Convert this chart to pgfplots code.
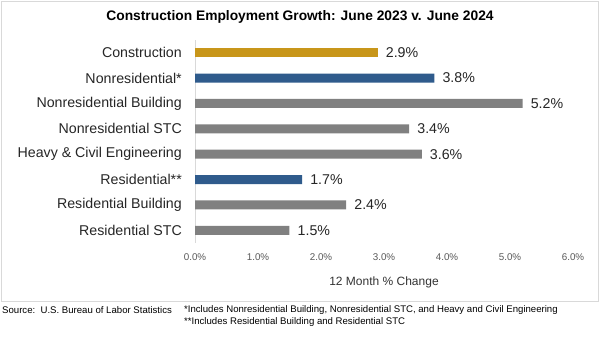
\documentclass[border=0pt]{standalone}
\usepackage{pgfplots}
\pgfplotsset{compat=1.18}
\usepackage{fontspec}
\setmainfont{Liberation Sans}
\definecolor{gold}{HTML}{C8961A}
\definecolor{navy}{HTML}{2F5B8C}
\definecolor{bargray}{HTML}{808080}
\definecolor{frame}{HTML}{D9D9D9}
\definecolor{ticktxt}{HTML}{595959}
\begin{document}
\begin{tikzpicture}[x=1pt,y=1pt]
\fill[white] (0,0) rectangle (600,-338);
\draw[frame, line width=0.8pt] (1,-1) rectangle (598.5,-301);
\node[font=\fontsize{13.8}{15}\selectfont\bfseries] at (300,-17) {Construction Employment Growth: June 2023 v. June 2024};
\begin{axis}[
  at={(195pt,-243pt)}, anchor=south west,
  scale only axis, width=378pt, height=203pt,
  xmin=0, xmax=6, ymin=-0.5, ymax=7.5, y dir=reverse,
  axis x line=none,
  axis y line*=left,
  y axis line style={frame, line width=0.8pt, -},
  xtick=\empty,
  ytick={0,...,7},
  yticklabels={Construction, Nonresidential*, Nonresidential Building, Nonresidential STC, Heavy \& Civil Engineering, Residential**, Residential Building, Residential STC},
  major tick length=0pt,
  yticklabel style={font=\fontsize{14.2}{16}\selectfont, text=black!85, inner sep=0pt, xshift=-13pt},
  xbar, bar width=9pt, bar shift=0pt,
  nodes near coords={\pgfmathprintnumber[fixed,precision=1,fixed zerofill,assume math mode=true]{\pgfplotspointmeta}\%},
  nodes near coords style={font=\fontsize{14.2}{16}\selectfont, text=black!85, anchor=west, inner sep=0pt, xshift=8pt},
  clip=false,
]
\addplot[fill=gold, draw=none] coordinates {(2.9,0)};
\addplot[fill=navy, draw=none] coordinates {(3.8,1) (1.7,5)};
\addplot[fill=bargray, draw=none] coordinates {(5.2,2) (3.4,3) (3.6,4) (2.4,6) (1.5,7)};
\end{axis}
\foreach \v/\l in {0/0.0,1/1.0,2/2.0,3/3.0,4/4.0,5/5.0,6/6.0}{
  \node[font=\fontsize{9.8}{11}\selectfont, text=ticktxt] at ({195+63*\v},-257) {\l\%};
}
\node[font=\fontsize{12}{13}\selectfont, text=black!80] at (384,-282) {12 Month \% Change};
\node[font=\fontsize{9.6}{11}\selectfont, anchor=west, inner sep=0pt] at (2,-310) {Source:\ \ U.S. Bureau of Labor Statistics};
\node[font=\fontsize{9.6}{11}\selectfont, anchor=west, inner sep=0pt] at (184,-310) {*Includes Nonresidential Building, Nonresidential STC, and Heavy and Civil Engineering};
\node[font=\fontsize{9.6}{11}\selectfont, anchor=west, inner sep=0pt] at (184,-322) {**Includes Residential Building and Residential STC};
\end{tikzpicture}
\end{document}
